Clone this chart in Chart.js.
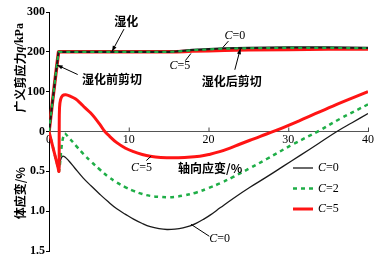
<!DOCTYPE html>
<html>
<head>
<meta charset="utf-8">
<script src="https://cdn.jsdelivr.net/npm/chart.js@4.4.1/dist/chart.umd.min.js"></script>
<style>html,body{margin:0;padding:0;background:#fff}</style>
</head>
<body>
<canvas id="chart" width="386" height="263"></canvas>
<script>
// 广义剪应力 q (kPa) vs 轴向应变 (%)
var qStrain = [0, 0.4, 0.8, 1.2, 15, 16, 17, 18, 20, 22, 25, 30, 35, 40];
var qC0 = [0, 68, 136, 200, 200, 201, 203, 205, 207, 209, 210, 211, 211, 210];
var qC2 = [0, 68, 136, 200, 200, 201, 202, 204, 206, 208, 209, 210, 210, 209];
var qC5 = [0, 68, 136, 200, 200, 200, 201, 202, 203, 204, 205, 206, 207, 207];

// 体应变 (%), positive = compression, drawn downward
var vStrain0 = [0, 1.15, 1.25, 1.45, 1.7, 2.0, 2.5, 3.2, 4.3, 5.3, 6.4, 7.4, 8.5, 9.6, 10.6, 11.7, 12.7, 13.8, 14.8, 15.8, 16.8, 17.7, 18.5, 19.4, 20.2, 21.5, 23.1, 25.2, 27.3, 29.4, 31.5, 33.8, 36.1, 38, 40];
var volC0 = [0, 0.46, 0.5, 0.36, 0.31, 0.32, 0.37, 0.455, 0.585, 0.685, 0.79, 0.88, 0.97, 1.04, 1.1, 1.155, 1.195, 1.22, 1.23, 1.225, 1.21, 1.185, 1.15, 1.1, 1.05, 0.955, 0.84, 0.7, 0.57, 0.435, 0.3, 0.15, 0, -0.11, -0.225];

var vStrain2 = [0, 1.15, 1.25, 1.9, 2.6, 3.4, 4.3, 5.3, 6.4, 7.4, 8.5, 9.6, 10.6, 11.7, 12.7, 13.8, 14.8, 15.8, 16.8, 18.5, 20, 21.5, 23.1, 25.2, 27.3, 30.6, 33.8, 36.5, 40];
var volC2 = [0, 0.46, 0.5, 0.03, 0.09, 0.18, 0.28, 0.38, 0.48, 0.565, 0.64, 0.7, 0.745, 0.785, 0.808, 0.82, 0.825, 0.82, 0.805, 0.765, 0.71, 0.648, 0.57, 0.46, 0.345, 0.16, -0.005, -0.16, -0.34];

var vStrain5 = [0, 1.15, 1.25, 1.28, 1.32, 1.45, 1.7, 2.1, 2.7, 3.3, 3.9, 4.5, 5.2, 5.8, 6.4, 7.0, 7.6, 8.5, 9.6, 10.6, 11.7, 12.7, 14.0, 15.6, 17.0, 18.9, 20.2, 21.4, 22.7, 23.9, 25.2, 26.5, 28.4, 31.5, 35.6, 40];
var volC5 = [0, 0.46, 0.5, 0.0, -0.3, -0.4, -0.45, -0.46, -0.44, -0.41, -0.36, -0.3, -0.235, -0.165, -0.085, 0, 0.06, 0.14, 0.21, 0.253, 0.288, 0.31, 0.325, 0.33, 0.325, 0.31, 0.285, 0.253, 0.208, 0.16, 0.11, 0.06, -0.01, -0.14, -0.32, -0.5];

var xTicks = [0, 10, 20, 30, 40];
var qTicks = [0, 100, 200, 300];
var volTicks = [0.5, 1.0, 1.5];
var KPA_PER_PCT = 200; // 0.5 % of volume strain shares the height of 100 kPa

var RED = '#ff1414', GREEN = '#1fae47', BLACK = '#1a1a1a';
var SERIF = '"Liberation Serif", "Times New Roman", serif';
var CJK = '"Noto Sans CJK SC", sans-serif';

function pts(xs, ys, k) {
    return xs.map(function (x, i) { return { x: x, y: ys[i] * k }; });
}

function drawParts(ctx, parts, cx, cy) {
    var w = 0;
    parts.forEach(function (p) { ctx.font = p[1]; w += ctx.measureText(p[0]).width; });
    var x = cx - w / 2;
    ctx.textBaseline = 'middle';
    ctx.textAlign = 'left';
    parts.forEach(function (p) {
        ctx.font = p[1];
        ctx.fillText(p[0], x, cy);
        x += ctx.measureText(p[0]).width;
    });
}

function arrow(ctx, x1, y1, x2, y2, head) {
    ctx.beginPath();
    ctx.moveTo(x1, y1);
    ctx.lineTo(x2, y2);
    ctx.stroke();
    if (!head) return;
    var a = Math.atan2(y2 - y1, x2 - x1);
    ctx.beginPath();
    ctx.moveTo(x2, y2);
    ctx.lineTo(x2 - 6 * Math.cos(a - 0.35), y2 - 6 * Math.sin(a - 0.35));
    ctx.lineTo(x2 - 6 * Math.cos(a + 0.35), y2 - 6 * Math.sin(a + 0.35));
    ctx.closePath();
    ctx.fill();
}

var cFont = 'italic 12px ' + SERIF, nFont = '12px ' + SERIF;
var hanFont = 'bold 12px ' + CJK;

var notes = {
    id: 'notes',
    afterDraw: function (chart) {
        var ctx = chart.ctx, xs = chart.scales.x, ys = chart.scales.y, ca = chart.chartArea;
        function X(v) { return xs.getPixelForValue(v); }
        function Y(v) { return ys.getPixelForValue(v); }
        ctx.save();
        ctx.fillStyle = '#000';
        ctx.lineWidth = 1;

        // small upward tick marks on the x axis
        ctx.strokeStyle = '#444';
        xTicks.forEach(function (v) {
            if (v === 0) return;
            ctx.beginPath();
            ctx.moveTo(X(v) + 0.5, Y(0));
            ctx.lineTo(X(v) + 0.5, Y(0) - 4);
            ctx.stroke();
        });
        ctx.strokeStyle = '#000';

        // axis titles
        ctx.save();
        ctx.translate(20, Y(160));
        ctx.rotate(-Math.PI / 2);
        drawParts(ctx, [['广义剪应力', hanFont], ['q', 'bold italic 12px ' + SERIF], ['/kPa', 'bold 12px ' + SERIF]], 0, 0);
        ctx.restore();
        ctx.save();
        ctx.translate(20, Y(-155));
        ctx.rotate(-Math.PI / 2);
        drawParts(ctx, [['体应变/%', hanFont]], 0, 0);
        ctx.restore();
        drawParts(ctx, [['轴向应变/%', hanFont]], X(20.2), Y(-92));

        // wetting annotations
        drawParts(ctx, [['湿化', hanFont]], X(9.7), Y(277));
        arrow(ctx, X(9.4), Y(257), X(7.9), Y(201), true);
        drawParts(ctx, [['湿化前剪切', hanFont]], X(7.9), Y(130));
        arrow(ctx, X(3.6), Y(143), X(1.0), Y(167), true);
        drawParts(ctx, [['湿化后剪切', hanFont]], X(22.9), Y(126));
        arrow(ctx, X(23.3), Y(155), X(24.0), Y(208), true);

        drawParts(ctx, [['C', cFont], ['=5', nFont]], X(16.4), Y(165));
        arrow(ctx, X(17.1), Y(178), X(17.8), Y(196), false);
        drawParts(ctx, [['C', cFont], ['=0', nFont]], X(23.3), Y(240));
        arrow(ctx, X(22.5), Y(227), X(21.8), Y(211), false);
        drawParts(ctx, [['C', cFont], ['=5', nFont]], X(11.6), Y(-92));
        arrow(ctx, X(12.2), Y(-73), X(12.8), Y(-62), false);
        drawParts(ctx, [['C', cFont], ['=0', nFont]], X(21.4), Y(-270));
        arrow(ctx, X(20.1), Y(-263), X(17.8), Y(-233), false);

        // legend from the volume strain datasets
        var rows = [[3, 'C', '=0'], [4, 'C', '=2'], [5, 'C', '=5']];
        rows.forEach(function (r, i) {
            var ds = chart.data.datasets[r[0]];
            var y = ca.bottom - 83 + i * 20.5;
            ctx.save();
            ctx.strokeStyle = ds.borderColor;
            ctx.lineWidth = ds.borderWidth;
            ctx.setLineDash(ds.borderDash || []);
            ctx.beginPath();
            ctx.moveTo(ca.right - 75, y);
            ctx.lineTo(ca.right - 55, y);
            ctx.stroke();
            ctx.restore();
            ctx.fillStyle = '#000';
            ctx.font = cFont;
            ctx.textAlign = 'left';
            ctx.textBaseline = 'middle';
            ctx.fillText(r[1], ca.right - 50, y);
            var w = ctx.measureText(r[1]).width;
            ctx.font = nFont;
            ctx.fillText(r[2], ca.right - 50 + w, y);
        });
        ctx.restore();
    }
};

var ctx = document.getElementById('chart').getContext('2d');
var chart = new Chart(ctx, {
    type: 'line',
    data: {
        datasets: [
            { label: 'q C=5', data: pts(qStrain, qC5, 1), borderColor: RED, borderWidth: 3.5, tension: 0, order: 6 },
            { label: 'q C=0', data: pts(qStrain, qC0, 1), borderColor: BLACK, borderWidth: 2.2, tension: 0, order: 5 },
            { label: 'q C=2', data: pts(qStrain, qC2, 1), borderColor: GREEN, borderWidth: 2.2, borderDash: [4, 4], tension: 0, order: 4 },
            { label: 'C=0', data: pts(vStrain0, volC0, -KPA_PER_PCT), borderColor: BLACK, borderWidth: 1.3, order: 3 },
            { label: 'C=2', data: pts(vStrain2, volC2, -KPA_PER_PCT), borderColor: GREEN, borderWidth: 2.5, borderDash: [4, 4], order: 2 },
            { label: 'C=5', data: pts(vStrain5, volC5, -KPA_PER_PCT), borderColor: RED, borderWidth: 3, order: 1 }
        ]
    },
    options: {
        responsive: false,
        animation: false,
        layout: { padding: { left: 0, right: 18, top: 12, bottom: 12 } },
        plugins: { legend: { display: false }, tooltip: { enabled: false } },
        elements: {
            point: { radius: 0 },
            line: { tension: 0.4, fill: false, borderJoinStyle: 'round' }
        },
        scales: {
            x: {
                type: 'linear',
                min: 0,
                max: 40,
                position: { y: 0 },
                afterBuildTicks: function (s) { s.ticks = xTicks.map(function (v) { return { value: v }; }); },
                ticks: { font: { family: SERIF, size: 12 }, color: '#000', padding: 1, maxRotation: 0 },
                grid: { drawOnChartArea: false, tickLength: 0 },
                border: { color: '#555', width: 1 }
            },
            y: {
                type: 'linear',
                min: -300,
                max: 300,
                afterBuildTicks: function (s) {
                    var t = qTicks.slice().reverse().concat(volTicks.map(function (v) { return -v * KPA_PER_PCT; }));
                    s.ticks = t.map(function (v) { return { value: v }; });
                },
                ticks: {
                    font: { family: SERIF, size: 12, weight: 'bold' },
                    color: '#000',
                    padding: 1,
                    callback: function (v) { return v >= 0 ? String(v) : (-v / KPA_PER_PCT).toFixed(1); }
                },
                grid: { drawOnChartArea: false, tickLength: 3, color: '#000' },
                border: { color: '#000', width: 1 },
                afterFit: function (s) { s.width = 49; }
            }
        }
    },
    plugins: [notes]
});
</script>
</body>
</html>
